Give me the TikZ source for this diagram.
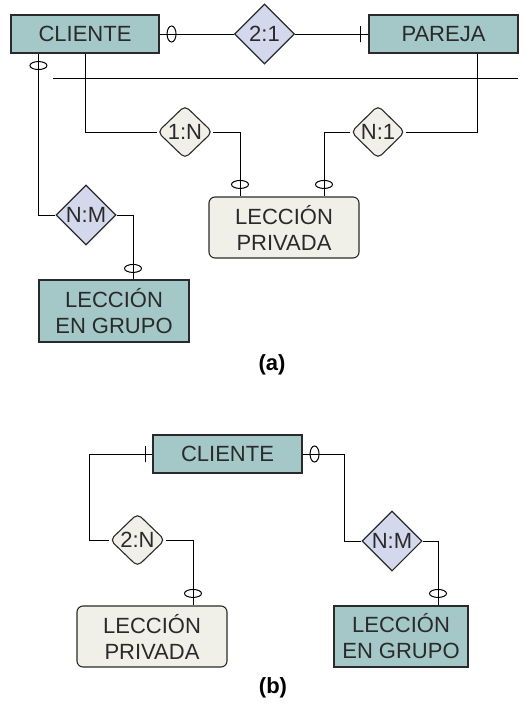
\documentclass[tikz,border=0pt]{standalone}
\usepackage{fontspec}
\setmainfont{Liberation Sans}
\usepackage{tikz}
\usetikzlibrary{positioning, shapes.geometric, calc}
\definecolor{entteal}  {RGB}{164, 199, 200}
\definecolor{rellilac} {RGB}{212, 216, 236}
\definecolor{weakbeige}{RGB}{240, 240, 232}
\definecolor{inkgray}  {RGB}{ 42,  42,  42}
\tikzset{
  % Entity box
  entity/.style={
    rectangle, minimum width=148pt, minimum height=38pt,
    fill=entteal, draw=inkgray, line width=1.1pt,
    font=\fontsize{22pt}{26pt}\selectfont, align=center, text=inkgray
  },
  % Weak entity box (rounded)
  weakent/.style={entity, fill=weakbeige, rounded corners=6pt},
  % Relationship diamond
  rel/.style={
    diamond, aspect=1, inner sep=0pt, minimum width=60pt, minimum height=60pt,
    fill=rellilac, draw=inkgray, line width=1.1pt,
    font=\fontsize{22pt}{26pt}\selectfont, text=inkgray
  },
  % Rounded relationship diamond
  weakrel/.style={rel, fill=weakbeige, rounded corners=5pt,
    minimum width=55pt, minimum height=53pt},
  % Connector line
  conn/.style={line width=1pt, color=black},
  % Optional marks on horizontal / vertical lines
  zeroh/.style={ellipse, draw, line width=1pt, inner sep=0pt,
    minimum width=9pt, minimum height=16pt},
  zerov/.style={ellipse, draw, line width=1pt, inner sep=0pt,
    minimum width=17pt, minimum height=8pt},
  % Mandatory bar on a horizontal line
  barh/.style={rectangle, draw, line width=1pt, inner sep=0pt,
    minimum width=0pt, minimum height=16pt},
  % Part label
  part/.style={font=\fontsize{22pt}{26pt}\selectfont\bfseries, text=black},
}
\begin{document}
\begin{tikzpicture}[x=1pt, y=-1pt]
  \useasboundingbox (0,0) rectangle (526,707);
  % (a)
  \node[entity]                 (cliA) at (85,34)    {CLIENTE};
  \node[entity, minimum width=149pt] (parA) at (443.5,34) {PAREJA};
  \node[rel]                    (r21A) at (264.5,34) {2:1};
  \node[weakrel]                (r1nA) at (185,132)  {1:N};
  \node[weakrel, minimum width=54pt] (rn1A) at (378,132) {N:1};
  \node[weakent, minimum width=150pt, minimum height=61pt] (lpA) at (284,227.5) {LECCIÓN\\PRIVADA};
  \node[rel]                    (nmA)  at (86,215)   {N:M};
  \node[entity, minimum width=150pt, minimum height=62pt] (lgA) at (114,311) {LECCIÓN\\EN GRUPO};
  \node[part]                   (labA) at (272,365)  {(a)};
  \coordinate (sepL) at (53,78);
  \coordinate (sepR) at (518,78);
  \draw[conn] (sepL) -- (sepR);
  \draw[conn] (cliA) -- (r21A);
  \draw[conn] (r21A) -- (parA);
  \draw[conn] ([xshift=28pt]cliA.south west) |- (nmA.west);
  \draw[conn] (cliA.south) |- (r1nA.west);
  \draw[conn] (r1nA.east) -| ([xshift=-44pt]lpA.north);
  \draw[conn] (rn1A.west) -| ([xshift=40pt]lpA.north);
  \draw[conn] (rn1A.east) -| ([xshift=34pt]parA.south);
  \draw[conn] (nmA.east) -| ([xshift=19pt]lgA.north);
  \node[zeroh] (o1) at ([xshift=12pt]cliA.east) {};
  \node[barh]  (b1) at ([xshift=-8pt]parA.west) {};
  \node[zerov] (o2) at ([xshift=28pt,yshift=-12pt]cliA.south west) {};
  \node[zerov] (o3) at ([xshift=-44pt,yshift=12pt]lpA.north) {};
  \node[zerov] (o4) at ([xshift=40pt,yshift=12pt]lpA.north) {};
  \node[zerov] (o5) at ([xshift=19pt,yshift=11pt]lgA.north) {};
  % (b)
  \node[entity, minimum width=149pt] (cliB) at (227.5,454) {CLIENTE};
  \node[weakrel]                (r2nB) at (137.5,540) {2:N};
  \node[weakent, minimum width=150pt, minimum height=61pt] (lpB) at (152,636.5) {LECCIÓN\\PRIVADA};
  \node[rel]                    (nmB)  at (392,541)   {N:M};
  \node[entity, minimum width=134pt, minimum height=61pt] (lgB) at (401,636.5) {LECCIÓN\\EN GRUPO};
  \node[part]                   (labB) at (273,688)   {(b)};
  \draw[conn] (cliB.west) -| ([xshift=-20pt]r2nB.west) -- (r2nB.west);
  \draw[conn] (r2nB.east) -| ([xshift=41pt]lpB.north);
  \draw[conn] (cliB.east) -| ([xshift=-17pt]nmB.west) -- (nmB.west);
  \draw[conn] (nmB.east) -| ([xshift=37pt]lgB.north);
  \node[barh]  (b2) at ([xshift=-7pt]cliB.west) {};
  \node[zeroh] (o6) at ([xshift=12pt]cliB.east) {};
  \node[zerov] (o7) at ([xshift=41pt,yshift=12pt]lpB.north) {};
  \node[zerov] (o8) at ([xshift=37pt,yshift=12pt]lgB.north) {};
\end{tikzpicture}
\end{document}
